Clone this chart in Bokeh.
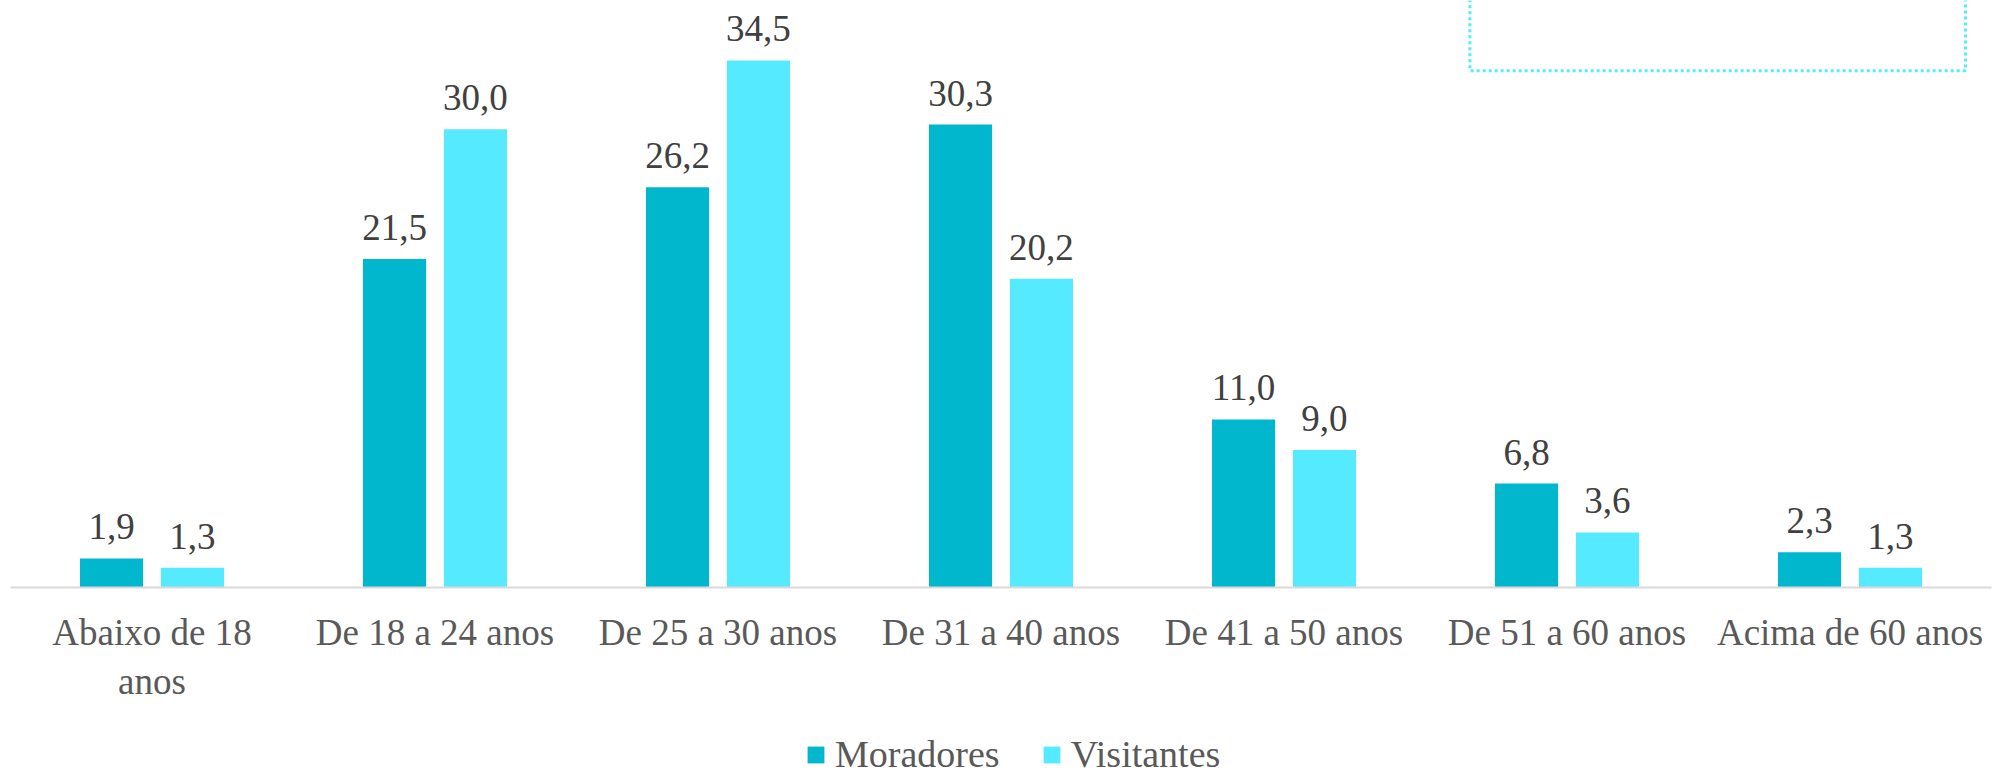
from bokeh.plotting import figure
from bokeh.layouts import column
from bokeh.models import (ColumnDataSource, FactorRange, Range1d, LabelSet,
                          Legend, LegendItem, BoxAnnotation)
from bokeh.transform import dodge
from bokeh.embed import file_html
from bokeh.resources import INLINE

categories = ["Abaixo de 18\nanos", "De 18 a 24 anos", "De 25 a 30 anos",
              "De 31 a 40 anos", "De 41 a 50 anos", "De 51 a 60 anos",
              "Acima de 60 anos"]
moradores = [1.9, 21.5, 26.2, 30.3, 11.0, 6.8, 2.3]
visitantes = [1.3, 30.0, 34.5, 20.2, 9.0, 3.6, 1.3]
series = ["Moradores", "Visitantes"]

C_MOR = "#00B7CD"
C_VIS = "#55EAFF"
FONT = "Liberation Serif"

def fmt(v):
    return f"{v:.1f}".replace(".", ",")

src = ColumnDataSource(dict(
    cat=categories,
    mor=moradores,
    vis=visitantes,
    mor_lbl=[fmt(v) for v in moradores],
    vis_lbl=[fmt(v) for v in visitantes],
))

p = figure(width=1995, height=720,
           x_range=FactorRange(*categories, range_padding=0),
           y_range=Range1d(0, 38.42),
           output_backend="svg", toolbar_location=None,
           min_border_left=10, min_border_right=4,
           min_border_top=0, min_border_bottom=133)
p.outline_line_color = None
p.background_fill_color = "white"
p.border_fill_color = "white"

OFF = 0.143
W = 0.223
r1 = p.vbar(x=dodge("cat", -OFF, range=p.x_range), top="mor", width=W,
            source=src, fill_color=C_MOR, line_color=None)
r2 = p.vbar(x=dodge("cat", OFF, range=p.x_range), top="vis", width=W,
            source=src, fill_color=C_VIS, line_color=None)

for fld, lbl, off in (("mor", "mor_lbl", -OFF), ("vis", "vis_lbl", OFF)):
    p.add_layout(LabelSet(x=dodge("cat", off, range=p.x_range), y=fld,
                          text=lbl, source=src, y_offset=19,
                          text_align="center", text_baseline="alphabetic",
                          text_font=FONT, text_font_size="37px",
                          text_color="#404040"))

p.add_layout(BoxAnnotation(left=5.157, right=6.908, bottom=33.83, top=45,
                           fill_alpha=0, line_color=C_VIS, line_alpha=1.0,
                           line_width=3, line_dash="3 3"))

p.yaxis.visible = False
p.xgrid.grid_line_color = None
p.ygrid.grid_line_color = None
ax = p.xaxis[0]
ax.axis_line_color = "#D9D9D9"
ax.axis_line_width = 2
ax.major_tick_line_color = None
ax.minor_tick_line_color = None
ax.major_tick_out = 0
ax.major_label_standoff = 24
ax.major_label_text_font = FONT
ax.major_label_text_font_size = "37px"
ax.major_label_text_color = "#595959"

# legend strip below the chart (swatch renderers have zero height)
q = figure(width=1995, height=56, x_range=Range1d(0, 1), y_range=Range1d(0, 1),
           output_backend="svg", toolbar_location=None,
           min_border_left=0, min_border_right=0,
           min_border_top=0, min_border_bottom=0)
q.outline_line_color = None
q.axis.visible = False
q.grid.visible = False
g1 = q.vbar(x=[0.5], top=[0], bottom=[0], width=0.0, fill_color=C_MOR,
            line_color=None)
g2 = q.vbar(x=[0.5], top=[0], bottom=[0], width=0.0, fill_color=C_VIS,
            line_color=None)

legend = Legend(items=[LegendItem(label=series[0], renderers=[g1]),
                       LegendItem(label=series[1], renderers=[g2])],
                orientation="horizontal", location=(795, 0),
                border_line_color=None, background_fill_alpha=0,
                label_text_font=FONT, label_text_font_size="38px",
                label_text_color="#595959",
                glyph_width=21, glyph_height=21, label_standoff=9,
                spacing=41, padding=0, margin=0)
q.add_layout(legend, "center")

open("out.html", "w").write(file_html(column(p, q, spacing=0), INLINE))
